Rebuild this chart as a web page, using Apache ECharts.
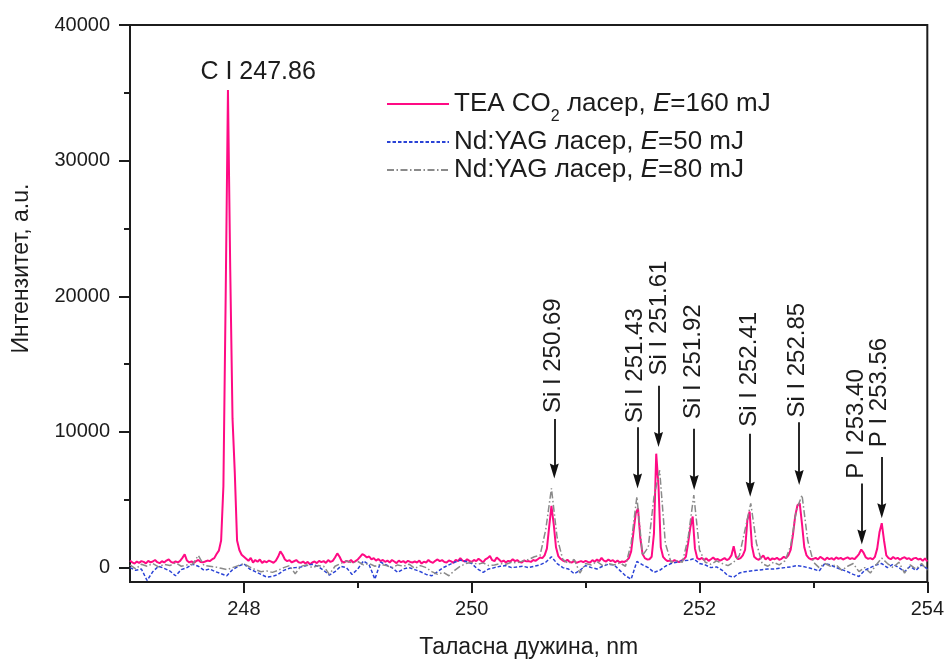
<!DOCTYPE html>
<html>
<head>
<meta charset="utf-8">
<script src="https://cdn.jsdelivr.net/npm/echarts@6/dist/echarts.min.js"></script>
<style>
  html, body { margin: 0; padding: 0; background: #ffffff; }
  #chart { width: 947px; height: 664px; }
</style>
</head>
<body>
<div id="chart"></div>
<script>
// ---- data ---------------------------------------------------------------
// Wavelength axis (nm) and intensity ticks
const xTickValues = [248, 250, 252, 254];
const xMinorTicks = [249, 251, 253];
const yTickValues = [0, 10000, 20000, 30000, 40000];
const yMinorTicks = [5000, 15000, 25000, 35000];

const seriesNames = [
  'TEA CO2 ласер, E=160 mJ',
  'Nd:YAG ласер, E=50 mJ',
  'Nd:YAG ласер, E=80 mJ'
];

// TEA CO2 spectrum, sampled every 0.02 nm from 247.00 to 254.00 nm
const teaStart = 247.0, teaStep = 0.02;
const tea160 = [
  520, 380, 300, 450, 350, 480, 420, 310, 500, 390, 450, 560, 400, 330, 470, 380, 520, 610, 420, 350, 460, 380, 500, 720, 980,
  520, 380, 460, 350, 480, 560, 420, 390, 450, 520, 480, 600, 700, 1000, 1250, 2000, 6000, 20000, 35200, 22000, 11000, 7000, 2000, 1300, 950,
  800, 650, 500, 720, 380, 560, 430, 600, 350, 480, 390, 520, 440, 360, 500, 800, 1200, 950, 600, 480, 550, 380, 470, 560, 400,
  350, 450, 300, 420, 250, 380, 450, 330, 500, 400, 480, 350, 560, 420, 500, 750, 1050, 800, 450, 380, 500, 420, 560, 380, 480,
  600, 800, 1000, 900, 750, 820, 600, 700, 520, 640, 480, 560, 430, 520, 380, 560, 450, 330, 520, 400, 480, 350, 500, 420, 380,
  450, 380, 520, 300, 440, 380, 560, 420, 350, 500, 600, 480, 550, 420, 380, 520, 460, 350, 580, 480, 700, 520, 450, 620, 500,
  420, 560, 480, 650, 520, 380, 600, 700, 850, 550, 480, 750, 600, 420, 520, 380, 500, 450, 620, 480, 550, 420, 380, 520, 460,
  480, 420, 560, 500, 620, 750, 700, 900, 1400, 3000, 4550, 3200, 1500, 850, 650, 520, 450, 580, 420, 380, 500, 350, 420, 480, 400,
  500, 420, 380, 550, 430, 600, 480, 720, 520, 450, 600, 480, 550, 400, 520, 380, 450, 420, 520, 700, 1200, 2600, 4000, 4370, 2200,
  1000, 700, 600, 620, 800, 2500, 8400, 6000, 1500, 800, 600, 480, 520, 430, 550, 480, 400, 520, 600, 800, 1800, 3000, 3770, 1400, 700,
  600, 720, 550, 680, 500, 620, 750, 580, 640, 520, 600, 700, 560, 650, 900, 1570, 800, 620, 700, 900, 1300, 3500, 4130, 1600, 800,
  650, 580, 720, 900, 600, 750, 550, 680, 620, 720, 580, 650, 800, 700, 900, 1300, 2400, 3800, 4600, 4740, 3200, 1500, 900, 700, 600,
  650, 720, 600, 800, 680, 560, 740, 620, 700, 580, 760, 650, 720, 600, 680, 750, 640, 700, 620, 800, 1000, 1330, 1100, 750, 650,
  700, 600, 800, 1400, 2600, 3280, 2000, 900, 700, 620, 780, 650, 720, 580, 700, 760, 640, 700, 550, 680, 720, 600, 650, 500, 680, 450
];

// Nd:YAG spectra, sampled every 0.05 nm from 247.00 to 254.00 nm
const yagStart = 247.0, yagStep = 0.05;
const yag50 = [
  0, -200, -100, -950, -300, 100, -50, -250, -600, -150,
  0, 250, 100, -200, -100, -300, -450, -600, -150, 100,
  280, -100, -300, -500, -700, -650, -500, -200, -50, 0,
  50, 150, 250, 100, -200, -550, -300, 100, 0, -500,
  -100, 500, 200, -850, 400, 200, 0, -350, -100, 0,
  -150, -300, -500, -600, -300, 0, 200, 400, 550, 450,
  300, -100, -350, -100, 0, 100, 150, 0, 50, 100,
  0, 100, 200, 400, 800, 300, 0, -100, -450, -200,
  150, 0, -100, 100, 250, 200, -200, -600, -850, 450,
  200, 0, -350, -200, 100, 300, 400, 500, 550, 650,
  300, 200, 0, 50, -200, -600, -700, -400, -300, -250,
  -200, -150, -100, -100, -50, 0, 50, 150, 100, 0,
  -100, -250, 300, 200, 0, -150, -300, -500, -650, -200,
  0, 200, 300, 0, 250, 0, -300, 100, -200, 200,
  -100
];
const yag80 = [
  200, -100, 250, 100, 300, 50, 250, 150, 350, 100,
  200, 250, 900, 150, 100, 50, -50, -150, 0, 150,
  300, 50, -150, -300, -250, -350, -200, 0, 150, -450,
  100, 200, 0, 150, 100, -500, 100, 300, 500, 350,
  450, 200, 300, 100, 250, 150, 0, 200, 100, 250,
  -50, 150, 0, -300, -500, -350, -600, -200, 100, 300,
  400, 250, 350, 150, 200, 300, 250, 400, 350, 500,
  600, 800, 900, 2800, 5840, 2200, 600, 300, 600, -400,
  300, 200, 450, 150, 300, 200, 350, 100, 1800, 5230,
  900, 1500, 5200, 7180, 1800, 400, 500, 400, 2200, 5350,
  1300, 400, 250, 500, 300, 150, 400, 900, 2800, 4740,
  1800, 300, 100, 400, 200, 500, 1600, 4200, 5350, 2000,
  400, 0, 300, 100, 200, -200, 100, 300, -300, 0,
  -400, 200, 700, 300, 0, 400, -400, 200, -100, 300,
  -200
];

// Spectral line identifications
const lineLabels = ['Si I 250.69', 'Si I 251.43', 'Si I 251.61', 'Si I 251.92',
                    'Si I 252.41', 'Si I 252.85', 'P I 253.40', 'P I 253.56'];
const peakLabel = 'C I 247.86';

// ---- annotation anchors (data coordinates) -------------------------------
const arrowX      = [250.725, 251.456, 251.64, 251.953, 252.445, 252.875, 253.425, 253.60];
const arrowTop    = [10960, 10350, 13400, 10230, 9860, 10720, 6200, 8160];
const arrowTip    = [6570, 5840, 8890, 5720, 5230, 6090, 1700, 3640];
const labelX      = [250.716, 251.437, 251.647, 251.945, 252.437, 252.858, 253.375, 253.577];
const labelY      = [15620, 14890, 18400, 15180, 14620, 15290, 10590, 12910];
const peakLabelPos = [248.125, 36500];

// ---- layout ----------------------------------------------------------------
const W = 947, H = 664;
const grid = { left: 130, right: 19, top: 25, bottom: 78 };
const yMin = -1060, yMax = 40000;
const perPx = (yMax - yMin) / (H - grid.top - grid.bottom);
const headLen = 15;

const FONT = "'Liberation Sans', Arial, Helvetica, sans-serif";
const INK = '#1c1c1c';
const PINK = '#ff0a84', BLUE = '#2a43d6', GREY = '#8a8a8a';

// narrow arrow head pointing up; markLine turns it along the line
const ARROW_HEAD = 'path://M4.5,0 L9,15 L4.5,13 L0,15 Z';

const toPairs = (vals, start, step) =>
  vals.map((v, i) => [Math.round((start + i * step) * 100) / 100, v]);

const teaData = toPairs(tea160, teaStart, teaStep);
const yag50Data = toPairs(yag50, yagStart, yagStep);
const yag80Data = toPairs(yag80, yagStart, yagStep);

const arrowLines = arrowX.map((x, i) => [
  { coord: [x, arrowTop[i]] },
  { coord: [x, arrowTip[i] + perPx * headLen / 2] }
]);

const labelPoints = lineLabels.map((t, i) => ({
  name: t, value: t, coord: [labelX[i], labelY[i]]
}));
labelPoints.push({
  name: peakLabel, value: peakLabel, coord: peakLabelPos,
  label: { rotate: 0, fontSize: 25 }
});

const axisLineStyle = { color: INK, width: 2 };

const legendBase = (name, top, formatter) => ({
  data: [name],
  left: 386,
  top: top,
  orient: 'horizontal',
  padding: 0,
  itemWidth: 62,
  itemHeight: 2,
  itemStyle: { opacity: 0 },
  selectedMode: false,
  formatter: formatter,
  textStyle: {
    fontFamily: FONT, fontSize: 26, color: INK,
    rich: {
      sub: { fontFamily: FONT, fontSize: 16, color: INK, padding: [26, 0, 0, 0] },
      it: { fontFamily: FONT, fontSize: 26, color: INK, fontStyle: 'italic' }
    }
  }
});

const option = {
  animation: false,
  backgroundColor: '#ffffff',
  grid: Object.assign({ show: true, borderColor: INK, borderWidth: 2, backgroundColor: 'transparent' }, grid),
  legend: [
    legendBase(seriesNames[0], 91, () => 'TEA CO{sub|2} ласер, {it|E}=160 mJ'),
    legendBase(seriesNames[1], 129, () => 'Nd:YAG ласер, {it|E}=50 mJ'),
    legendBase(seriesNames[2], 157, () => 'Nd:YAG ласер, {it|E}=80 mJ')
  ],
  xAxis: [
    {
      type: 'value', min: 247, max: 254, position: 'bottom',
      axisLine: { show: true, onZero: false, lineStyle: axisLineStyle },
      axisTick: { show: true, length: 11, customValues: xTickValues, lineStyle: axisLineStyle },
      axisLabel: { customValues: xTickValues, fontFamily: FONT, fontSize: 20, color: INK, margin: 17 },
      splitLine: { show: false },
      name: 'Таласна дужина, nm', nameLocation: 'middle', nameGap: 54,
      nameTextStyle: { fontFamily: FONT, fontSize: 23, color: INK }
    },
    {
      type: 'value', min: 247, max: 254, position: 'bottom',
      axisLine: { show: false, onZero: false },
      axisTick: { show: true, length: 6, customValues: xMinorTicks, lineStyle: axisLineStyle },
      axisLabel: { show: false },
      splitLine: { show: false }
    }
  ],
  yAxis: [
    {
      type: 'value', min: yMin, max: yMax, position: 'left',
      axisLine: { show: true, onZero: false, lineStyle: axisLineStyle },
      axisTick: { show: true, length: 11, customValues: yTickValues, lineStyle: axisLineStyle },
      axisLabel: { customValues: yTickValues, formatter: v => String(v),
                   fontFamily: FONT, fontSize: 20, color: INK, margin: 20 },
      splitLine: { show: false },
      name: 'Интензитет, a.u.', nameLocation: 'middle', nameGap: 97,
      nameTextStyle: { fontFamily: FONT, fontSize: 23, color: INK, padding: [0, 0, 0, 70] }
    },
    {
      type: 'value', min: yMin, max: yMax, position: 'left',
      axisLine: { show: false, onZero: false },
      axisTick: { show: true, length: 6, customValues: yMinorTicks, lineStyle: axisLineStyle },
      axisLabel: { show: false },
      splitLine: { show: false }
    }
  ],
  series: [
    {
      name: seriesNames[0], type: 'line', data: teaData,
      symbol: 'none', showSymbol: false, z: 2,
      lineStyle: { color: PINK, width: 2 }, itemStyle: { color: PINK },
      markLine: {
        silent: true, animation: false,
        symbol: ['none', ARROW_HEAD],
        symbolSize: headLen,
        symbolKeepAspect: true,
        label: { show: false },
        lineStyle: { color: '#111111', width: 1.8, type: 'solid' },
        itemStyle: { color: '#111111' },
        emphasis: { disabled: true },
        data: arrowLines
      },
      markPoint: {
        silent: true, animation: false,
        symbol: 'circle', symbolSize: 0,
        label: {
          show: true, position: 'inside', formatter: '{b}', rotate: 90,
          fontFamily: FONT, fontSize: 24, color: INK
        },
        data: labelPoints
      }
    },
    {
      name: seriesNames[1], type: 'line', data: yag50Data,
      symbol: 'none', showSymbol: false, z: 3,
      lineStyle: { color: BLUE, width: 1.5, type: [3.5, 2] }, itemStyle: { color: BLUE }
    },
    {
      name: seriesNames[2], type: 'line', data: yag80Data,
      symbol: 'none', showSymbol: false, z: 3,
      lineStyle: { color: GREY, width: 1.5, type: [7, 2.5, 1.5, 2.5] }, itemStyle: { color: GREY }
    }
  ]
};

const chart = echarts.init(document.getElementById('chart'), null, { renderer: 'canvas', width: W, height: H });
chart.setOption(option);
</script>
</body>
</html>
